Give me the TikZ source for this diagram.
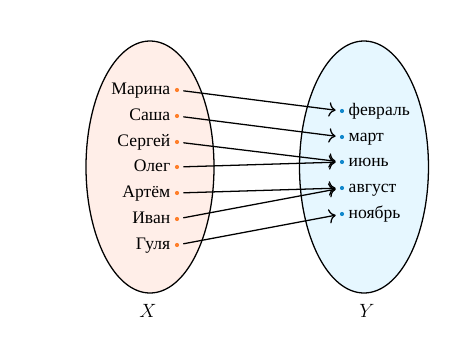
\documentclass[tikz,border=0pt]{standalone}
\usepackage{fontspec}
\setmainfont{Liberation Serif}
\usetikzlibrary{arrows.meta,shapes.geometric}
\definecolor{lfill}{HTML}{FFEEE8}
\definecolor{rfill}{HTML}{E6F7FF}
\definecolor{ldotc}{HTML}{FF7F2A}
\definecolor{rdotc}{HTML}{1288CC}
\tikzset{
  setell/.style={draw=black, line width=0.8pt},
  ldot/.style={circle, fill=ldotc, inner sep=0pt, minimum size=2.6pt},
  rdot/.style={circle, fill=rdotc, inner sep=0pt, minimum size=2.6pt},
  lbl/.style={inner sep=0pt, font=\fontsize{11}{13}\selectfont},
  arr/.style={line width=0.8pt, -{To[length=4.2pt,width=9pt]}, shorten <=2.5pt, shorten >=2.5pt},
}
\begin{document}
\begin{tikzpicture}[x=0.625pt, y=-0.625pt]
\useasboundingbox (0,0) rectangle (475,344);
\node[setell, fill=lfill, ellipse, inner sep=0pt, minimum width=80pt, minimum height=157.5pt] (EX) at (150,167) {};
\node[setell, fill=rfill, ellipse, inner sep=0pt, minimum width=80.6pt, minimum height=157.5pt] (EY) at (364,167) {};
% left dots
\node[ldot] (a1) at (177,90) {};
\node[ldot] (a2) at (177,116) {};
\node[ldot] (a3) at (177,142) {};
\node[ldot] (a4) at (177,167) {};
\node[ldot] (a5) at (177,193) {};
\node[ldot] (a6) at (177,219) {};
\node[ldot] (a7) at (177,245) {};
% right dots
\node[rdot] (b1) at (342,111) {};
\node[rdot] (b2) at (342,137) {};
\node[rdot] (b3) at (342,162) {};
\node[rdot] (b4) at (342,188) {};
\node[rdot] (b5) at (342,214) {};
% labels
\node[lbl, anchor=base east] (la1) at ([xshift=-4pt,yshift=-2.5pt]a1.center) {Марина};
\node[lbl, anchor=base east] (la2) at ([xshift=-4pt,yshift=-2.5pt]a2.center) {Саша};
\node[lbl, anchor=base east] (la3) at ([xshift=-4pt,yshift=-2.5pt]a3.center) {Сергей};
\node[lbl, anchor=base east] (la4) at ([xshift=-4pt,yshift=-2.5pt]a4.center) {Олег};
\node[lbl, anchor=base east] (la5) at ([xshift=-4pt,yshift=-2.5pt]a5.center) {Артём};
\node[lbl, anchor=base east] (la6) at ([xshift=-4pt,yshift=-2.5pt]a6.center) {Иван};
\node[lbl, anchor=base east] (la7) at ([xshift=-4pt,yshift=-2.5pt]a7.center) {Гуля};
\node[lbl, anchor=base west] (lb1) at ([xshift=4pt,yshift=-2.5pt]b1.center) {февраль};
\node[lbl, anchor=base west] (lb2) at ([xshift=4pt,yshift=-2.5pt]b2.center) {март};
\node[lbl, anchor=base west] (lb3) at ([xshift=4pt,yshift=-2.5pt]b3.center) {июнь};
\node[lbl, anchor=base west] (lb4) at ([xshift=4pt,yshift=-2.5pt]b4.center) {август};
\node[lbl, anchor=base west] (lb5) at ([xshift=4pt,yshift=-2.5pt]b5.center) {ноябрь};
% set names
\node[lbl, font=\fontsize{12}{14}\selectfont] (X) at (148,311) {$X$};
\node[lbl, font=\fontsize{12}{14}\selectfont] (Y) at (367,311) {$Y$};
% arrows
\draw[arr] (a1) -- (b1);
\draw[arr] (a2) -- (b2);
\draw[arr] (a3) -- (b3);
\draw[arr] (a4) -- (b3);
\draw[arr] (a5) -- (b4);
\draw[arr] (a6) -- (b4);
\draw[arr] (a7) -- (b5);
\end{tikzpicture}
\end{document}
